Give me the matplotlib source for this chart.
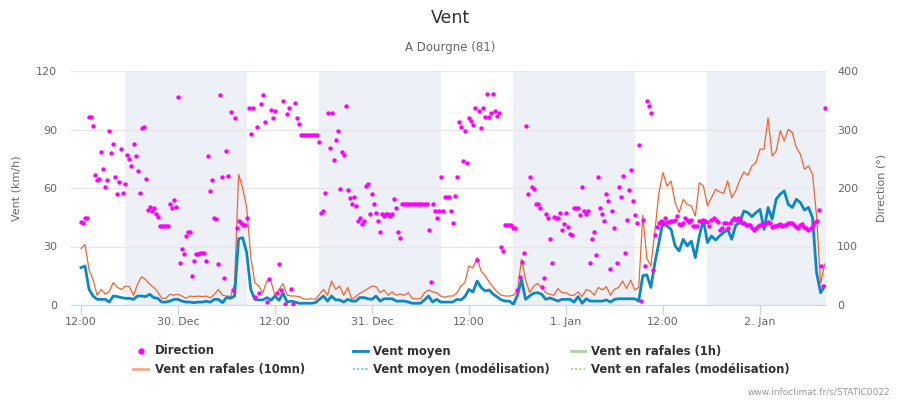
import matplotlib
matplotlib.use("Agg")
import matplotlib.pyplot as plt
import matplotlib.dates as mdates
from matplotlib.lines import Line2D
from matplotlib.ticker import FuncFormatter
import pandas as pd

# wind values, one every 30 min from 29 Dec 12:00 (km/h)
gust_10mn = [
    29, 31, 18, 13, 5, 8, 5.5, 7,
    11.5, 9, 8, 9.7, 9.4, 5, 10.6, 14.5,
    13, 10.6, 9, 6.7, 3.4, 3.4, 5.5, 5,
    5.5, 4.6, 3.4, 4.6, 4.3, 4.6, 4.3, 4.6,
    3.6, 5.5, 8, 5, 4.6, 4.3, 10.6, 67,
    60, 50, 25, 11.5, 9.7, 6.3, 12.3, 12.3,
    4.6, 8, 11, 5.1, 4.6, 4.6, 4.3, 3.2,
    2.9, 3.2, 2.9, 5.5, 8, 5, 12.3, 8,
    9.7, 5, 9, 2.9, 4.3, 6, 7.2, 8.4,
    9.7, 9.4, 6.3, 7.7, 5, 6.7, 5, 5.6,
    5, 6.3, 3.2, 3.2, 3.2, 6.3, 7.7, 6.7,
    6.3, 4.6, 3.9, 4.6, 4.6, 6, 9.7, 11.5,
    20, 19, 24.3, 17.4, 15, 11.8, 9, 6.7,
    5, 4.6, 4.6, 5, 7.2, 23.4, 13, 6.3,
    9.7, 11, 9, 6.3, 5.5, 5, 8.4, 6.3,
    6.3, 5, 5, 6.7, 4.3, 8, 7.2, 5,
    9, 7.7, 9.4, 5, 8, 9, 12.3, 8.4,
    12.8, 7.7, 9, 46, 24, 20, 38, 57.6,
    67.9, 61, 63.6, 52.5, 47.4, 54.2, 51.6, 50.8,
    45.6, 62.7, 61, 50.8, 55, 59.3, 58, 57.3,
    63.6, 55, 58.5, 64, 68.2, 66.5, 71.3, 73,
    79.9, 79.9, 96, 76.4, 79, 89.3, 84.1, 90.1,
    88.4, 80.7, 77.3, 69.6, 71.3, 67, 45.6, 11,
    21]

wind_mean = [
    19.2, 20, 8, 4.6, 2.9, 2.9, 2.9, 1.5,
    4.6, 4.3, 3.8, 3.4, 3.4, 2.9, 4.6, 4.6,
    4.3, 5.5, 3.8, 3.4, 1.5, 1.5, 2, 2.9,
    2.9, 2, 1.5, 1.5, 1.2, 1.5, 1.5, 1.9,
    1.5, 2.9, 2.9, 1.2, 3.8, 3.4, 4.6, 34,
    34.5, 27, 8, 2.9, 2.6, 2.6, 3.8, 2.4,
    4.6, 2.4, 6, 1.5, 2, 1.5, 0.9, 0.9,
    0.9, 0.9, 1.2, 2.9, 4.6, 2, 4.6, 2.6,
    2.6, 1.5, 2.9, 2, 2, 3.8, 3.8, 3.2,
    2.9, 4.6, 2, 3.2, 3.2, 3.2, 2, 2,
    2, 1.5, 0.9, 0.9, 0.9, 2.6, 4.6, 1.5,
    2.9, 1.5, 1.5, 1.5, 1.5, 2.9, 2.6, 4.3,
    8, 6.7, 12.3, 9, 7.2, 7.7, 5.5, 4.1,
    2.6, 2, 2, 0.3, 5, 13, 2.9, 4.6,
    6, 6.3, 5.5, 2.9, 3.6, 2.9, 2, 2.9,
    2.9, 2.9, 1.5, 4.3, 0.9, 3.2, 2, 2,
    2, 2, 2.6, 1.5, 2.9, 3.2, 3.2, 3.2,
    3.2, 3.2, 2, 15, 15.5, 9, 21.7, 32,
    43, 40.5, 38.8, 30.3, 27.7, 33.7, 30.3, 32.8,
    24.3, 35.4, 43.6, 32, 35.4, 33.3, 35.4, 37.1,
    38.8, 33.7, 40.9, 42.2, 48.2, 47.4, 45.3, 47.4,
    49, 38.8, 50, 44, 54.2, 56.8, 58.5, 51.6,
    50, 54.2, 52.5, 48.7, 50, 44.8, 16.6, 6.3,
    9.7]

# direction (deg), one every 15 min from 29 Dec 12:00
direction = [
    142, 141, 149, 149, 322, 322, 306, 222,
    214, 215, 262, 233, 201, 214, 298, 259,
    276, 219, 189, 210, 267, 192, 207, 256,
    250, 238, 276, 254, 229, 192, 303, 304,
    216, 162, 168, 161, 166, 156, 151, 135,
    135, 135, 135, 135, 173, 166, 180, 168,
    355, 72, 96, 87, 118, 124, 124, 50,
    76, 88, 88, 89, 89, 89, 76, 255,
    195, 214, 149, 147, 70, 359, 219, 46,
    263, 221, 330, 26, 319, 132, 144, 141,
    137, 137, 148, 337, 292, 336, 13, 304,
    21, 344, 359, 313, 5, 44, 334, 319,
    332, 21, 70, 25, 349, 2, 327, 336,
    28, 2, 346, 319, 310, 290, 290, 290,
    290, 290, 290, 290, 290, 290, 279, 158,
    160, 192, 329, 269, 329, 248, 282, 298,
    199, 262, 257, 340, 197, 183, 172, 185,
    169, 144, 148, 139, 144, 203, 207, 156,
    189, 173, 158, 144, 124, 156, 152, 156,
    156, 152, 156, 182, 166, 124, 115, 172,
    172, 172, 172, 172, 172, 172, 172, 172,
    172, 172, 172, 172, 129, 40, 173, 160,
    148, 160, 219, 160, 185, 185, 185, 160,
    141, 186, 218, 312, 304, 247, 298, 243,
    319, 315, 308, 337, 77, 331, 302, 336,
    321, 360, 321, 329, 360, 331, 323, 329,
    100, 92, 137, 137, 137, 137, 132, 132,
    26, 48, 74, 89, 306, 189, 218, 201,
    198, 172, 173, 166, 31, 47, 156, 149,
    112, 71, 151, 148, 149, 158, 129, 139,
    158, 134, 122, 119, 166, 166, 166, 154,
    201, 161, 156, 161, 71, 112, 125, 86,
    218, 165, 156, 144, 189, 177, 62, 160,
    132, 72, 202, 185, 221, 89, 146, 196,
    231, 178, 153, 141, 274, 7, 146, 66,
    349, 341, 329, 60, 119, 134, 141, 143,
    138, 148, 142, 142, 144, 144, 145, 152,
    139, 137, 141, 148, 145, 142, 145, 135,
    135, 135, 144, 144, 145, 144, 142, 135,
    145, 148, 145, 142, 129, 132, 141, 140,
    132, 141, 146, 148, 146, 148, 146, 141,
    140, 137, 136, 137, 132, 129, 132, 135,
    136, 138, 137, 141, 142, 141, 134, 135,
    135, 136, 138, 135, 137, 136, 140, 141,
    141, 136, 134, 132, 136, 138, 134, 132,
    129, 132, 136, 142, 144, 162, 66, 32,
    336]

nights = [("2024-12-29 17:25", "2024-12-30 08:30"),
          ("2024-12-30 17:25", "2024-12-31 08:30"),
          ("2024-12-31 17:25", "2025-01-01 08:30"),
          ("2025-01-01 17:25", "2025-01-02 08:30")]

start = pd.Timestamp("2024-12-29 12:00")
t_wind = pd.date_range(start, periods=len(wind_mean), freq="30min")
t_dir = pd.date_range(start, periods=len(direction), freq="15min")

W, H = 900, 400
fig = plt.figure(figsize=(9, 4), dpi=100)
ax = fig.add_axes([71 / W, 1 - 305 / H, 755 / W, 234 / H])

for a, b in nights:
    ax.axvspan(pd.Timestamp(a), pd.Timestamp(b), color="#edf0f7", lw=0, zorder=0)

ax.plot(t_wind, gust_10mn, color="#f0652f", lw=0.9, zorder=2)
ax.plot(t_wind, wind_mean, color="#0a88c6", lw=2.0, zorder=3)

ax.set_xlim(pd.Timestamp("2024-12-29 10:46"), pd.Timestamp("2025-01-02 08:10"))
ax.set_ylim(0, 120)
ax.set_yticks([0, 30, 60, 90, 120])
ax.set_axisbelow(True)
ax.yaxis.grid(True, color="#e6e6e6", lw=1)
ax.set_xticks(pd.date_range("2024-12-29 12:00", "2025-01-02 00:00", freq="12h"))


def fmt(x, pos):
    d = mdates.num2date(x)
    if d.hour == 0:
        return f"{d.day}. {d.strftime('%b')}"
    return d.strftime("%H:%M")


ax.xaxis.set_major_formatter(FuncFormatter(fmt))
ax.tick_params(axis="x", length=7.5, width=1, color="#ccd6eb", labelsize=8,
               labelcolor="#666666", pad=1)
ax.tick_params(axis="y", length=0, labelsize=8, labelcolor="#666666", pad=10)
for s in ["left", "right", "top"]:
    ax.spines[s].set_visible(False)
ax.spines["bottom"].set_color("#ccd6eb")
ax.set_ylabel("Vent (km/h)", fontsize=8, color="#666666")
ax.yaxis.set_label_coords(-0.065, 0.5)

ax2 = ax.twinx()
ax2.scatter(t_dir, direction, s=10, color="#ff00ff", linewidths=0, zorder=4)
ax2.set_ylim(0, 400)
ax2.set_yticks([0, 100, 200, 300, 400])
ax2.tick_params(axis="y", length=0, labelsize=8, labelcolor="#666666", pad=8)
for s in ["left", "right", "top", "bottom"]:
    ax2.spines[s].set_visible(False)
ax2.set_ylabel("Direction (°)", fontsize=8, color="#666666", rotation=90)
ax2.yaxis.set_label_coords(1.0675, 0.5)

fig.text(0.5, 1 - 18 / H, "Vent", ha="center", va="center", fontsize=12.5, color="#333333")
fig.text(0.5, 1 - 47 / H, "A Dourgne (81)", ha="center", va="center", fontsize=8.5,
         color="#666666")

# legend drawn by hand: (handle x0, x1, text x, row y, label, style)
legend_items = [
    (141, None, 155, 351, "Direction", dict(marker="o", ms=3.5, color="#ff00ff", ls="none")),
    (353, 368, 373, 351, "Vent moyen", dict(color="#0a88c6", lw=2)),
    (571, 585, 591, 351, "Vent en rafales (1h)", dict(color="#a6d996", lw=2)),
    (133, 148, 155, 369, "Vent en rafales (10mn)", dict(color="#f5a888", lw=2)),
    (353, 368, 373, 369, "Vent moyen (modélisation)", dict(color="#86c6e8", lw=1.5, ls=(0, (1, 1)))),
    (571, 585, 591, 369, "Vent en rafales (modélisation)", dict(color="#a6d996", lw=1.5, ls=(0, (1, 1)))),
]
for x0, x1, xt, y, label, style in legend_items:
    yy = 1 - y / H
    if x1 is None:
        fig.add_artist(Line2D([x0 / W], [yy], transform=fig.transFigure, **style))
    else:
        fig.add_artist(Line2D([x0 / W, x1 / W], [yy, yy], transform=fig.transFigure, **style))
    fig.text(xt / W, yy, label, ha="left", va="center", fontsize=8.4, fontweight="bold",
             color="#333333")

fig.text(890 / W, 1 - 392 / H, "www.infoclimat.fr/s/STATIC0022", ha="right", va="center",
         fontsize=6.5, color="#999999")

fig.savefig("out.png", dpi=100)
